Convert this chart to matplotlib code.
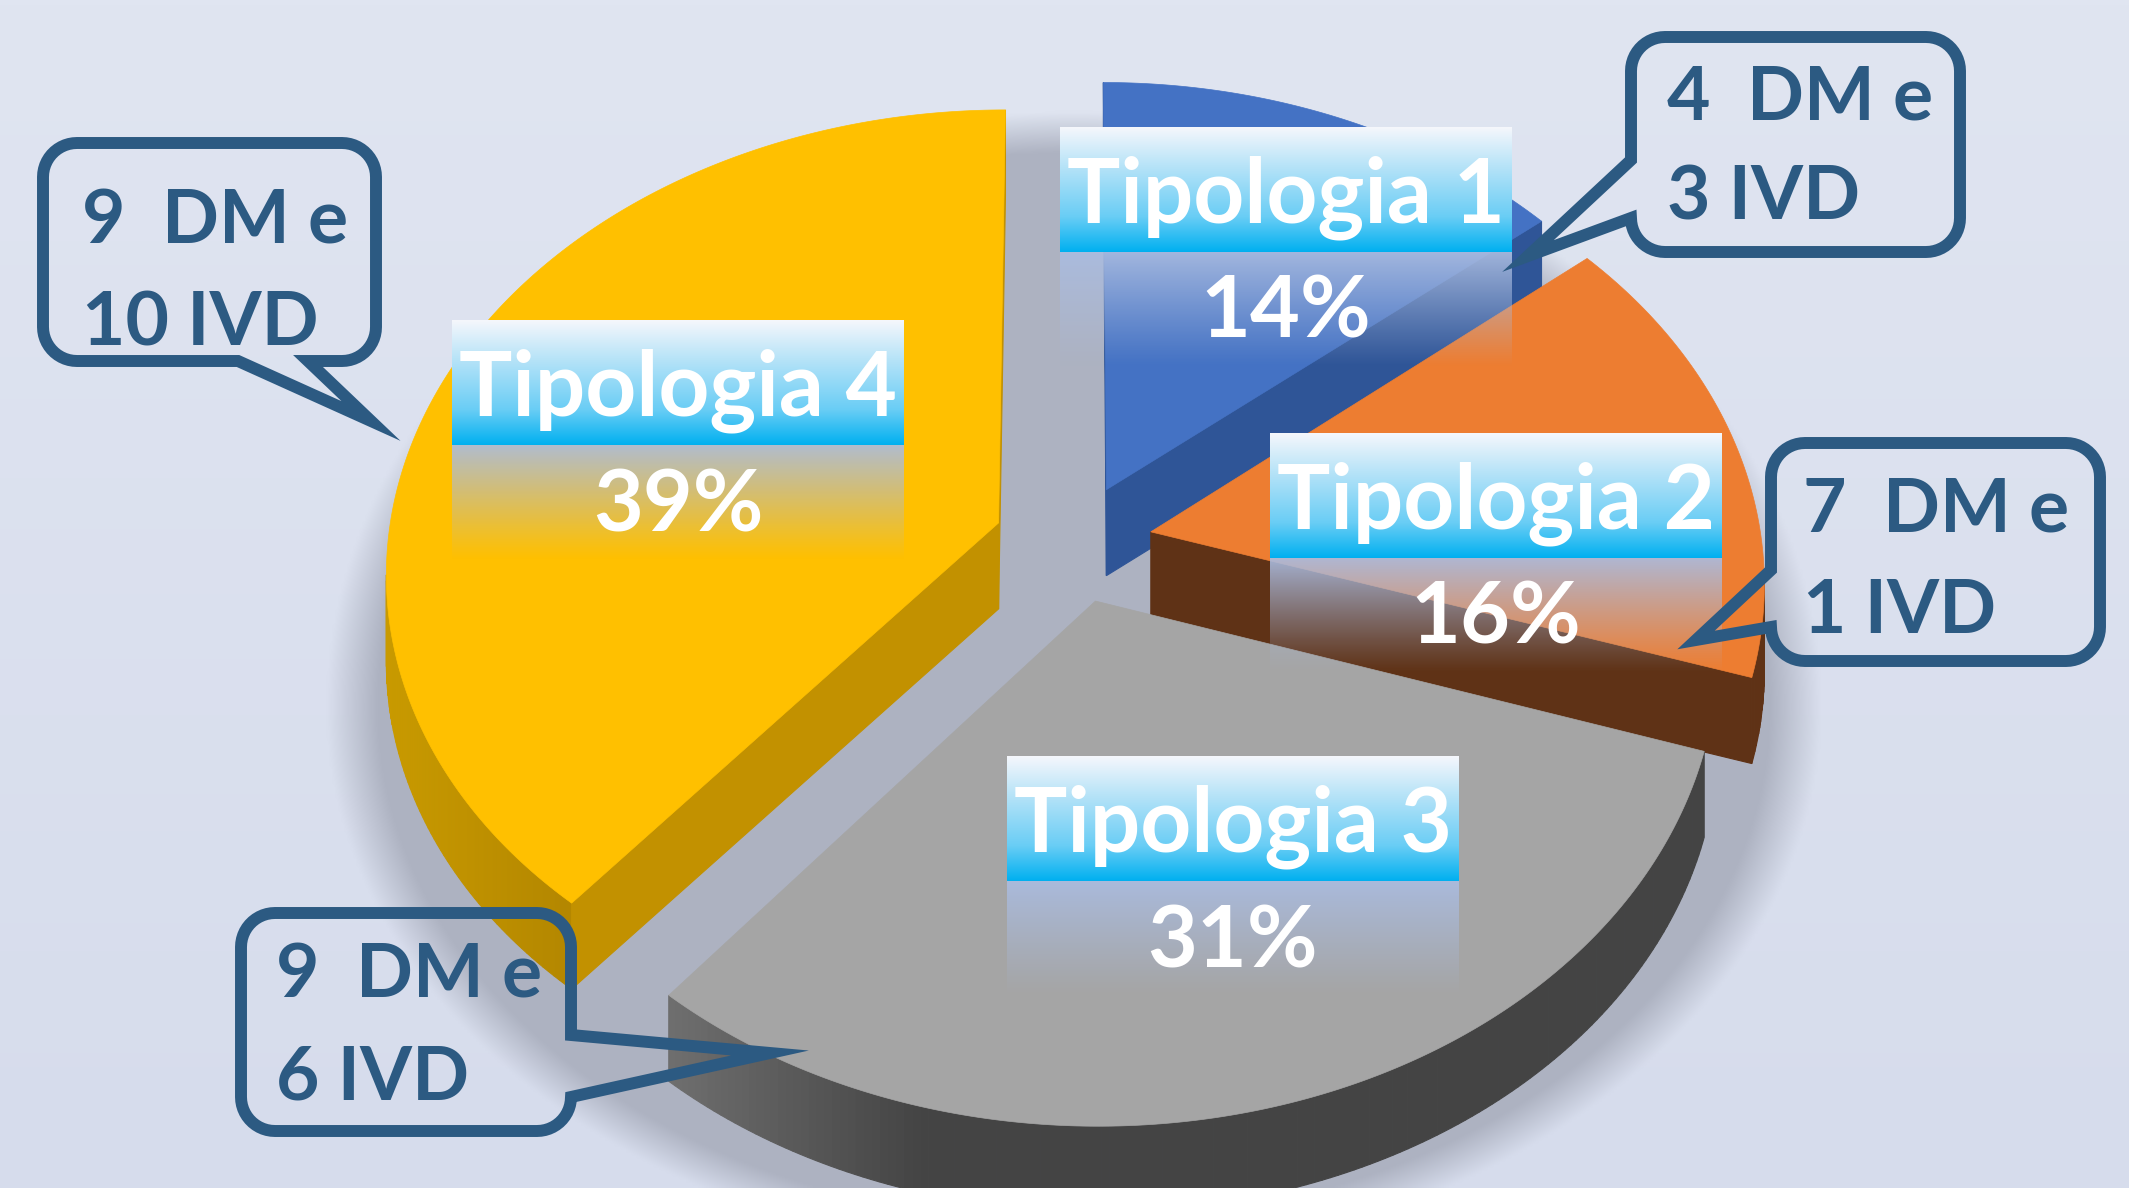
import matplotlib.pyplot as plt
import numpy as np
from matplotlib.patches import Polygon

categories = ['Tipologia 1', 'Tipologia 2', 'Tipologia 3', 'Tipologia 4']
percentages = [14, 16, 31, 39]
dm_counts = [4, 7, 9, 9]
ivd_counts = [3, 1, 6, 10]

top_colors = ['#4472C4', '#ED7D31', '#A5A5A5', '#FFC000']
side_dark = ['#2F528F', '#5F3216', '#444444', '#AC8000']
side_light = ['#2F528F', '#5F3216', '#6E6E6E', '#C99A00']
face_colors = ['#2F5597', '#5F3216', '#444444', '#C29100']

W, H = 2129, 1188
fig = plt.figure(figsize=(W / 100, H / 100), dpi=100)
ax = fig.add_axes([0, 0, 1, 1])
ax.axis('off')

# background gradient
g = np.linspace(0, 1, 256)[:, None, None]
c_top = np.array([224, 229, 241]) / 255
c_bot = np.array([214, 220, 236]) / 255
ax.imshow(c_top + (c_bot - c_top) * g * np.ones((1, 2, 1)),
          extent=(0, W, H, 0), aspect='auto', zorder=0)

# soft shadow behind the pie
yy, xx = np.mgrid[0:H:3, 0:W:3].astype(float)
sh_x, sh_y = 1073, 706
sh_ry = np.where(yy < sh_y, 584, 543)
rho = np.sqrt(((xx - sh_x) / 733) ** 2 + ((yy - sh_y) / sh_ry) ** 2)
shadow = np.zeros(xx.shape + (4,))
shadow[..., :3] = [0.68, 0.70, 0.76]
shadow[..., 3] = np.clip((1.02 - rho) / 0.07, 0, 1)
ax.imshow(shadow, extent=(0, W, H, 0), aspect='auto', zorder=1,
          interpolation='bilinear')

# 3D pie (simple perspective projection)
cx, cy = 1073, 543
rx, ry = 611, 459
persp = 0.102
depth = 86
explode = 0.13


def project(X, Y):
    d = 1 + persp * Y
    return cx + rx * X / d, cy - ry * Y / d


bounds = np.concatenate([[0], np.cumsum(percentages)]) / sum(percentages) * 2 * np.pi
slices = []
for i in range(len(percentages)):
    t0, t1 = bounds[i], bounds[i + 1]
    mid = (t0 + t1) / 2
    ox, oy = explode * np.sin(mid), explode * np.cos(mid)
    t = np.linspace(t0, t1, max(10, int((t1 - t0) * 80)))
    ax_, ay_ = project(ox + np.sin(t), oy + np.cos(t))
    tx, ty = project(ox, oy)
    slices.append((ty, i, tx, ty, ax_, ay_))

for _, i, tx, ty, px, py in sorted(slices):
    # outer curved side
    vis = [j for j in range(len(px) - 1) if px[j + 1] < px[j]]
    if vis:
        xmin = min(px[j] for j in vis)
        for j in vis:
            f = np.clip((px[j] - xmin) / 250, 0, 1)
            col = np.array(plt.matplotlib.colors.to_rgb(side_light[i])) * (1 - f) + \
                np.array(plt.matplotlib.colors.to_rgb(side_dark[i])) * f
            quad = [(px[j], py[j]), (px[j + 1], py[j + 1]),
                    (px[j + 1], py[j + 1] + depth), (px[j], py[j] + depth)]
            ax.add_patch(Polygon(quad, closed=True, fc=col, ec=col, lw=0.8, zorder=2))
    # radial faces
    for k, end in ((0, False), (-1, True)):
        dx = px[k] - tx
        if (end and dx > 0) or (not end and dx < 0):
            quad = [(tx, ty), (px[k], py[k]), (px[k], py[k] + depth), (tx, ty + depth)]
            ax.add_patch(Polygon(quad, closed=True, fc=face_colors[i],
                                 ec=face_colors[i], lw=0.8, zorder=2))
    # top face
    ax.add_patch(Polygon([(tx, ty)] + list(zip(px, py)), closed=True,
                         fc=top_colors[i], ec=top_colors[i], lw=0.5, zorder=2))

# label boxes
label_pos = [(1060, 127), (1270, 433), (1007, 756), (452, 320)]
box_w, band_h, fade_h = 452, 125, 115
u = np.linspace(0, 1, band_h)
stops = np.array([[245, 247, 252], [185, 228, 248], [105, 205, 245], [0, 176, 240]]) / 255
band = np.ones((band_h, 2, 4))
for c in range(3):
    band[:, :, c] = np.interp(u, [0, 0.3, 0.72, 1.0], stops[:, c])[:, None]
v = np.linspace(0, 1, fade_h)
fade = np.zeros((fade_h, 2, 4))
fade[..., :3] = [0.67, 0.74, 0.88]
fade[..., 3] = (0.92 * (1 - v) ** 1.1)[:, None]
box_img = np.concatenate([band, fade])

for i, (lx, ly) in enumerate(label_pos):
    ax.imshow(box_img, extent=(lx, lx + box_w, ly + band_h + fade_h, ly),
              aspect='auto', zorder=10, interpolation='bilinear')
    ax.text(lx + box_w / 2, ly + 95, categories[i], ha='center', va='baseline',
            fontsize=64, fontweight='bold', color='white', family=['Lato', 'DejaVu Sans'],
            zorder=11)
    ax.text(lx + box_w / 2, ly + 211, f'{percentages[i]}%', ha='center', va='baseline',
            fontsize=62, fontweight='bold', color='white', family=['Lato', 'DejaVu Sans'],
            zorder=11)

# callouts
callout_boxes = [(1631, 37, 1960, 252, 'left', 160, 218, (1528, 256)),
                 (1771, 443, 2100, 661, 'left', 570, 627, (1696, 640)),
                 (241, 913, 571, 1131, 'right', 1035, 1097, (770, 1053)),
                 (43, 143, 376, 361, 'bottom', 238, 308, (371, 421))]
callout_text = [(1667, 119, 220), (1803, 532, 633), (276, 998, 1099), (82, 243, 345)]
navy = '#2C5A82'


def callout_shape(x0, y0, x1, y1, side, b0, b1, tip, r=34):
    def arc(ccx, ccy, a0, a1):
        t = np.radians(np.linspace(a0, a1, 14))
        return list(zip(ccx + r * np.cos(t), ccy + r * np.sin(t)))
    pts = arc(x0 + r, y0 + r, 180, 270)
    pts += arc(x1 - r, y0 + r, 270, 360)
    if side == 'right':
        pts += [(x1, b0), tip, (x1, b1)]
    pts += arc(x1 - r, y1 - r, 0, 90)
    if side == 'bottom':
        pts += [(b1, y1), tip, (b0, y1)]
    pts += arc(x0 + r, y1 - r, 90, 180)
    if side == 'left':
        pts += [(x0, b1), tip, (x0, b0)]
    return pts


for i, box in enumerate(callout_boxes):
    ax.add_patch(Polygon(callout_shape(*box), closed=True, fill=False, ec=navy,
                         lw=8.6, joinstyle='miter', zorder=12))
    tx, y1, y2 = callout_text[i]
    ax.text(tx, y1, f'{dm_counts[i]}  DM e', ha='left', va='baseline', fontsize=54,
            fontweight='bold', color=navy, family=['Lato', 'DejaVu Sans'], zorder=13)
    ax.text(tx, y2, f'{ivd_counts[i]} IVD', ha='left', va='baseline', fontsize=54,
            fontweight='bold', color=navy, family=['Lato', 'DejaVu Sans'], zorder=13)

ax.set_xlim(0, W)
ax.set_ylim(H, 0)
fig.savefig('out.png', dpi=100)
